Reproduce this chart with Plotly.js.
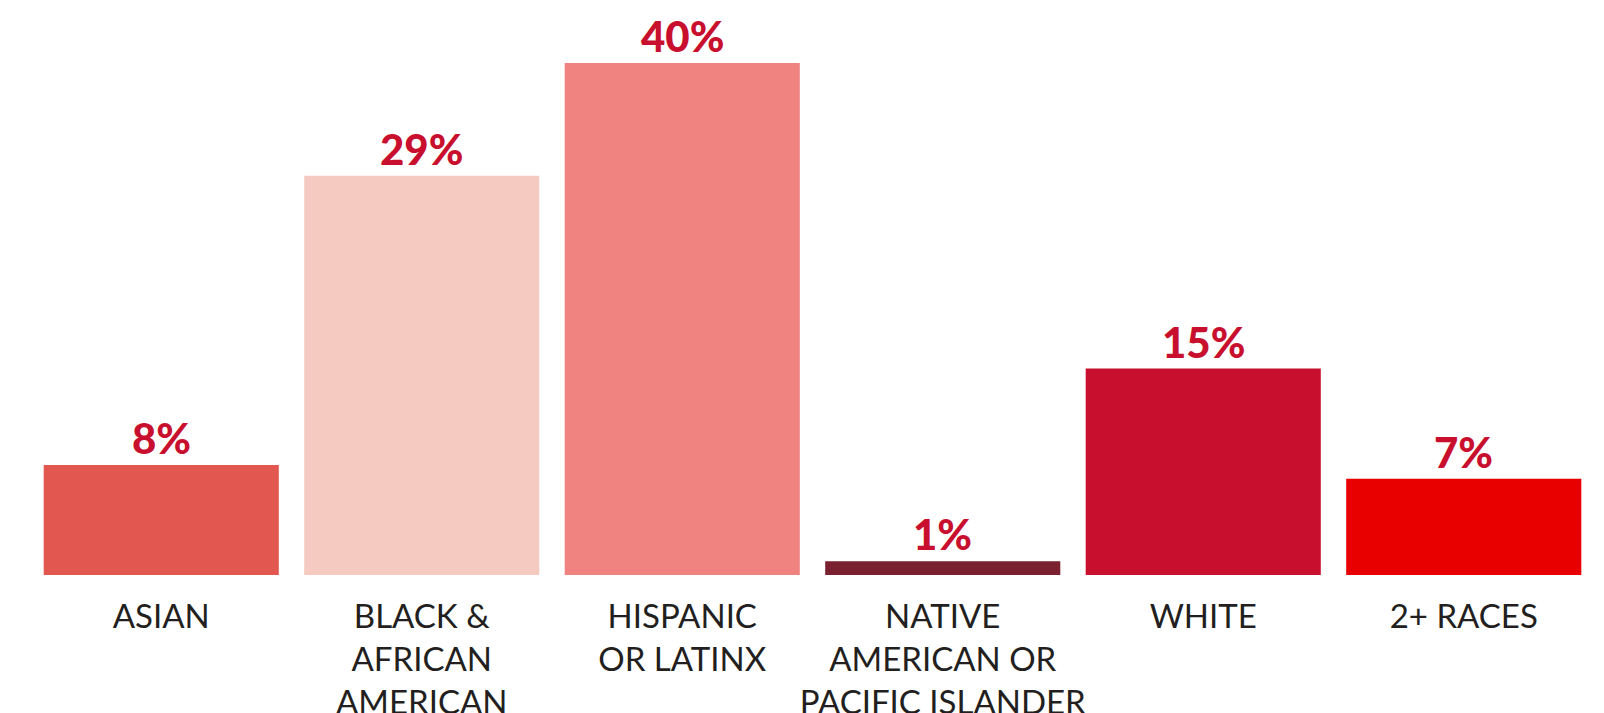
<!DOCTYPE html>
<html>
<head>
<meta charset="utf-8">
<script src="https://cdn.plot.ly/plotly-3.0.1.min.js"></script>
<style>
  html, body { margin: 0; padding: 0; background: #ffffff; }
  #chart { width: 1604px; height: 713px; }
</style>
</head>
<body>
<div id="chart"></div>
<script>
// Category tick labels (with line breaks as in the reference)
const categories = [
  "ASIAN",
  "BLACK &<br>AFRICAN<br>AMERICAN",
  "HISPANIC<br>OR LATINX",
  "NATIVE<br>AMERICAN OR<br>PACIFIC ISLANDER",
  "WHITE",
  "2+ RACES"
];
// Percent values shown on the bars
const values = [8, 29, 40, 1, 15, 7];
// Bar colours
const barColors = ["#E35751", "#F5CAC0", "#F08280", "#7A2030", "#C8102E", "#E80000"];
// Visible value range of the axis (the tallest bar is cut at the top, as in the reference)
const yTop = 37.2;

const labels = values.map(v => v + "%");

const bars = {
  type: "bar",
  x: categories,
  y: values,
  marker: { color: barColors, line: { width: 0 } },
  hoverinfo: "skip",
  cliponaxis: true
};

const annotations = categories.map((c, i) => ({
  x: c,
  y: Math.min(values[i], yTop),
  xref: "x",
  yref: "y",
  text: labels[i],
  showarrow: false,
  yanchor: "bottom",
  yshift: 0,
  font: { family: "Lato, 'DejaVu Sans', sans-serif", size: 42, color: "#C8102E", weight: 900 }
}));

const layout = {
  width: 1604,
  height: 713,
  margin: { l: 31, r: 10, t: 63, b: 138 },
  paper_bgcolor: "#ffffff",
  plot_bgcolor: "#ffffff",
  showlegend: false,
  bargap: 0.0975,
  xaxis: {
    showgrid: false,
    zeroline: false,
    showline: false,
    ticks: "",
    ticklabelstandoff: 19,
    tickfont: { family: "Lato, 'DejaVu Sans', sans-serif", size: 33, color: "#231F20" }
  },
  yaxis: {
    range: [0, yTop],
    showgrid: false,
    zeroline: false,
    showline: false,
    showticklabels: false,
    ticks: ""
  },
  annotations: annotations
};

Plotly.newPlot("chart", [bars], layout, { displayModeBar: false, staticPlot: true });
</script>
</body>
</html>
